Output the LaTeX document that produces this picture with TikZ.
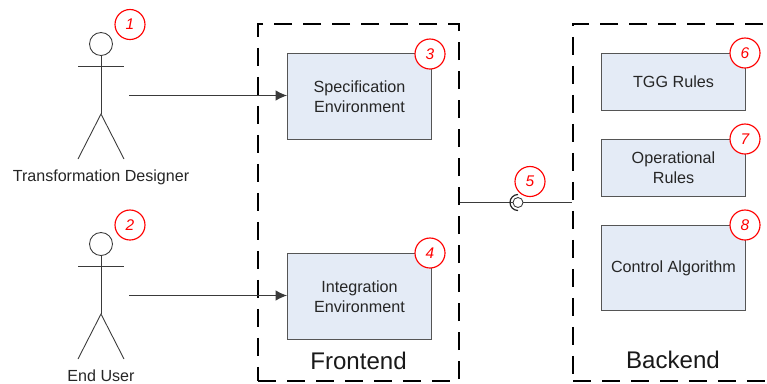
\documentclass[tikz,border=0pt]{standalone}
\usepackage{fontspec}
\usetikzlibrary{arrows.meta}
\setmainfont{Liberation Sans}
\definecolor{boxfill}{HTML}{E4EBF6}
\definecolor{boxline}{HTML}{555555}
\definecolor{inkgray}{HTML}{3A3A3A}
\tikzset{
  block/.style={draw=boxline,fill=boxfill,line width=0.6pt,inner sep=0pt,align=center,
    text=black!85,font=\fontsize{9.2}{11.3}\selectfont,minimum width=2.88cm},
  tier/.style={draw=black,line width=1.4pt,dash pattern=on 10.5pt off 6pt,inner sep=0pt},
  tierlabel/.style={inner sep=0pt,text=black!90,font=\fontsize{13.7}{16}\selectfont},
  badge/.style={circle,draw=red,fill=white,line width=0.65pt,minimum size=0.6cm,inner sep=0pt,
    text=red,font=\fontsize{8.8}{10}\selectfont},
  actorname/.style={inner sep=0pt,text=black!85,font=\fontsize{9.15}{10}\selectfont},
  stick/.style={draw=inkgray,line width=0.5pt},
  link/.style={draw=inkgray,line width=0.55pt},
}
\begin{document}
\begin{tikzpicture}[x=0.02cm,y=-0.02cm]
\useasboundingbox (0,0) rectangle (767,383);
\clip (0,0) rectangle (767,383);
% tiers
\node[tier,minimum width=4.02cm,minimum height=7.14cm] (frontend) at (358.5,202.5) {};
\node[tier,minimum width=5cm,minimum height=7.14cm] (backend) at (698,202.5) {};
\node[tierlabel] (frontendlabel) at (358.5,360.5) {Frontend};
\node[tierlabel] (backendlabel) at (673,360) {Backend};
% frontend blocks
\node[block,minimum height=1.72cm] (spec) at (359.5,96.5) {Specification\\Environment};
\node[block,minimum height=1.72cm] (integ) at (359.5,296.5) {Integration\\Environment};
% backend blocks
\node[block,minimum height=1.14cm] (tgg) at (673.5,82) {TGG Rules};
\node[block,minimum height=1.14cm] (oprules) at (673.5,168) {Operational\\Rules};
\node[block,minimum height=1.7cm] (control) at (673.5,268) {Control Algorithm};
% designer
\node[circle,stick,minimum size=0.46cm,inner sep=0pt] (head1) at (101,44) {};
\coordinate (hip1) at (101,114);
\coordinate (start1) at (129,95.5);
\draw[stick] (head1) -- (hip1);
\draw[stick] (78,66.5) -- (124,66.5);
\draw[stick] (78,159) -- (hip1) -- (124,159);
\node[actorname] (designer) at (101,177) {Transformation Designer};
% end user
\node[circle,stick,minimum size=0.46cm,inner sep=0pt] (head2) at (101,244) {};
\coordinate (hip2) at (101,314);
\coordinate (start2) at (129,295.5);
\draw[stick] (head2) -- (hip2);
\draw[stick] (78,266.5) -- (124,266.5);
\draw[stick] (78,359) -- (hip2) -- (124,359);
\node[actorname] (enduser) at (101,375.5) {End User};
% connectors
\draw[link,-{Latex[length=6.5pt,width=6pt]}] (start1) -- (spec.west|-start1);
\draw[link,-{Latex[length=6.5pt,width=6pt]}] (start2) -- (integ.west|-start2);
\node[circle,stick,minimum size=0.2cm,inner sep=0pt] (ball) at (518,202.5) {};
\draw[link] (frontend.east) -- (ball);
\draw[link] (ball) -- (backend.west);
\draw[draw=black!85,line width=0.7pt] (518,194.5) arc (-90:-270:8);
% numbers
\node[badge] (n1) at (130,24.5) {\itshape 1};
\node[badge] (n2) at (130,225) {\itshape 2};
\node[badge] (n3) at (430,54) {\itshape 3};
\node[badge] (n4) at (430,253) {\itshape 4};
\node[badge] (n5) at (530,181.5) {\itshape 5};
\node[badge] (n6) at (745,53) {\itshape 6};
\node[badge] (n7) at (745,139) {\itshape 7};
\node[badge] (n8) at (745,225) {\itshape 8};
\end{tikzpicture}
\end{document}
